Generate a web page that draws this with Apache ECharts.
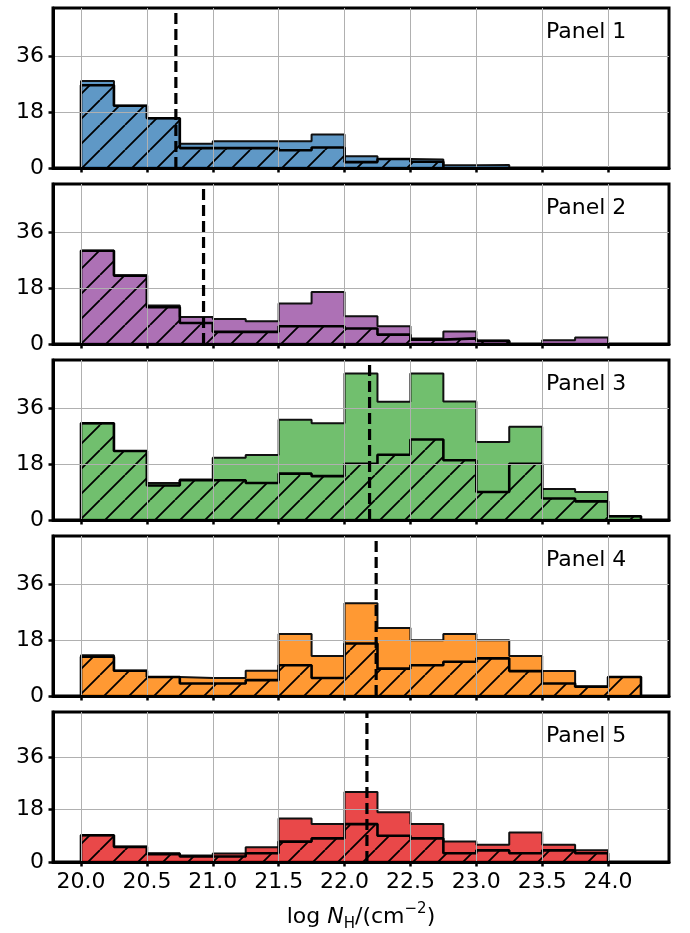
<!DOCTYPE html>
<html><head><meta charset="utf-8">
<script src="https://cdn.jsdelivr.net/npm/echarts@6/dist/echarts.min.js"></script>
<style>html,body{margin:0;padding:0;background:#fff}#c{width:690px;height:933px}</style>
</head><body><div id="c"></div>
<script>
// ---- data ----
const binEdges = [20.0,20.25,20.5,20.75,21.0,21.25,21.5,21.75,22.0,22.25,22.5,22.75,23.0,23.25,23.5,23.75,24.0,24.25];
const panelNames = ['Panel 1','Panel 2','Panel 3','Panel 4','Panel 5'];
const p1Total = [28, 20, 16, 7.8, 8.6, 8.6, 8.6, 10.8, 3.8, 2.9, 2.7, 0.9, 1, 0, 0, 0, 0];
const p1Sub   = [26.6, 20, 16, 6.4, 6.4, 6.4, 5.7, 6.6, 1.9, 2.9, 2.0, 0, 0, 0, 0, 0, 0];
const p2Total = [30, 22, 12.4, 8.7, 8.0, 7.3, 13, 16.7, 8.9, 5.7, 1.8, 4.0, 1.07, 0, 1.2, 2.1, 0];
const p2Sub   = [30, 22, 11.8, 6.75, 3.9, 3.9, 5.7, 5.7, 5.0, 3.0, 1.4, 1.8, 1.0, 0, 0, 0, 0];
const p3Total = [31.1, 22.2, 11.9, 13.0, 20.0, 20.9, 32.2, 31.1, 47.1, 38.0, 47.1, 38.1, 25.1, 30.0, 10.0, 9.0, 1.2];
const p3Sub   = [31.1, 22.2, 11.1, 12.8, 12.8, 11.9, 14.9, 14.1, 18.1, 21.0, 25.9, 19.2, 9.0, 18.1, 6.9, 6.0, 1.2];
const p4Total = [13.1, 8.1, 6.1, 5.8, 5.8, 8.1, 19.9, 12.9, 29.8, 21.9, 17.9, 19.9, 17.9, 12.9, 8.0, 3.0, 6.1];
const p4Sub   = [12.6, 8.1, 6.1, 4.0, 4.0, 5.1, 9.9, 5.8, 16.9, 8.8, 9.9, 11.0, 12.1, 8.0, 4.0, 3.0, 6.1];
const p5Total = [9.2, 5.2, 3.0, 2.2, 2.9, 5.1, 14.9, 13.0, 24.0, 17.1, 13.0, 7.0, 5.9, 10.1, 5.9, 4.0, 0];
const p5Sub   = [9.2, 5.2, 2.7, 1.9, 1.9, 3.0, 7.0, 8.1, 13.0, 9.0, 8.1, 3.0, 4.0, 3.0, 4.0, 3.0, 0];
const medians = [20.72, 20.93, 22.19, 22.24, 22.17];
const xTicks = [20.0, 20.5, 21.0, 21.5, 22.0, 22.5, 23.0, 23.5, 24.0];
const yTicks = [0, 18, 36];
const xMin = 19.7875, xMax = 24.4625, yMax = 51.45;
const fillColors = ['rgba(55,126,184,0.8)','rgba(152,78,163,0.8)','rgba(77,175,74,0.8)','rgba(255,127,0,0.8)','rgba(228,26,28,0.8)'];

const totals = [p1Total, p2Total, p3Total, p4Total, p5Total];
const subs = [p1Sub, p2Sub, p3Sub, p4Sub, p5Sub];
const FONT = 'DejaVu Sans';

function stepPoints(vals){
  let last = vals.length - 1;
  while (last > 0 && vals[last] === 0) last--;
  const pts = [[binEdges[0], 0]];
  for (let i = 0; i <= last; i++) pts.push([binEdges[i], vals[i]]);
  pts.push([binEdges[last + 1], 0]);
  return pts;
}
function hatchTile(s, lw){
  const c = document.createElement('canvas'); c.width = s; c.height = s;
  const g = c.getContext('2d');
  g.strokeStyle = '#000'; g.lineWidth = lw;
  g.beginPath();
  for (let k = -1; k <= 1; k++){ g.moveTo(k*s, s); g.lineTo(k*s + s, 0); }
  g.stroke();
  return c;
}
const tile = hatchTile(25, 1.8);

const grids = [], xAxes = [], yAxes = [], series = [], titles = [];
for (let i = 0; i < 5; i++){
  const top = 8 + 176*i;
  grids.push({left: 53, width: 616, top: top, height: 160, show: true, borderColor: '#000', borderWidth: 3, backgroundColor: 'transparent'});
  const isLast = i === 4;
  xAxes.push({
    type: 'value', gridIndex: i, min: xMin, max: xMax, z: 3,
    axisLine: {show: true, onZero: false, lineStyle: {color: '#000', width: 3}},
    axisTick: {show: true, length: 4.5, lineStyle: {color: '#000', width: 2.5}, customValues: xTicks},
    axisLabel: {show: isLast, customValues: xTicks, formatter: v => v.toFixed(1), color: '#000', fontSize: 22, fontFamily: FONT, margin: 9},
    splitLine: {show: false},
    name: isLast ? 'log {i|N}{sub|H}/(cm{sup|−2})' : '',
    nameLocation: 'middle', nameGap: 40,
    nameTextStyle: {color: '#000', fontSize: 22, fontFamily: FONT, lineHeight: 30,
      rich: {
        i: {fontStyle: 'italic', fontSize: 22, fontFamily: FONT, color: '#000', lineHeight: 30},
        sub: {fontSize: 15, fontFamily: FONT, color: '#000', verticalAlign: 'bottom', lineHeight: 30},
        sup: {fontSize: 15, fontFamily: FONT, color: '#000', verticalAlign: 'top', lineHeight: 30}
      }}
  });
  yAxes.push({
    type: 'value', gridIndex: i, min: 0, max: yMax, interval: 18, z: 3,
    axisLine: {show: true, lineStyle: {color: '#000', width: 3}},
    axisTick: {show: true, length: 4.5, lineStyle: {color: '#000', width: 2.5}, customValues: yTicks},
    axisLabel: {customValues: yTicks, color: '#000', fontSize: 22, fontFamily: FONT, margin: 9},
    splitLine: {show: true, lineStyle: {color: '#b0b0b0', width: 1}}
  });
  series.push({
    type: 'line', xAxisIndex: i, yAxisIndex: i, step: 'end', symbol: 'none', z: 1,
    data: stepPoints(totals[i]), silent: true,
    lineStyle: {color: '#111', width: 2},
    areaStyle: {color: fillColors[i], opacity: 1}
  });
  series.push({
    type: 'line', xAxisIndex: i, yAxisIndex: i, step: 'end', symbol: 'none', z: 1,
    data: stepPoints(subs[i]), silent: true,
    lineStyle: {color: '#000', width: 2.6},
    areaStyle: {color: {image: tile, repeat: 'repeat'}, opacity: 1}
  });
  series.push({
    type: 'line', xAxisIndex: i, yAxisIndex: i, data: [], silent: true, z: 2,
    markLine: {silent: true, symbol: 'none', z: 2, animation: false, label: {show: false},
      lineStyle: {color: '#b0b0b0', width: 1, type: 'solid'},
      emphasis: {disabled: true},
      data: xTicks.map(v => ({xAxis: v}))}
  });
  series.push({
    type: 'line', xAxisIndex: i, yAxisIndex: i, symbol: 'none', z: 4, silent: true,
    data: [[medians[i], 0], [medians[i], yMax]],
    lineStyle: {color: '#000', width: 3.2, type: [11, 5]}
  });
  titles.push({text: panelNames[i], left: 546, top: 21 + 176*i, padding: 0,
    textStyle: {fontSize: 22, fontWeight: 'normal', color: '#000', fontFamily: FONT}});
}

const chart = echarts.init(document.getElementById('c'), null, {renderer: 'canvas'});
chart.setOption({animation: false, title: titles, grid: grids, xAxis: xAxes, yAxis: yAxes, series: series});
</script></body></html>
